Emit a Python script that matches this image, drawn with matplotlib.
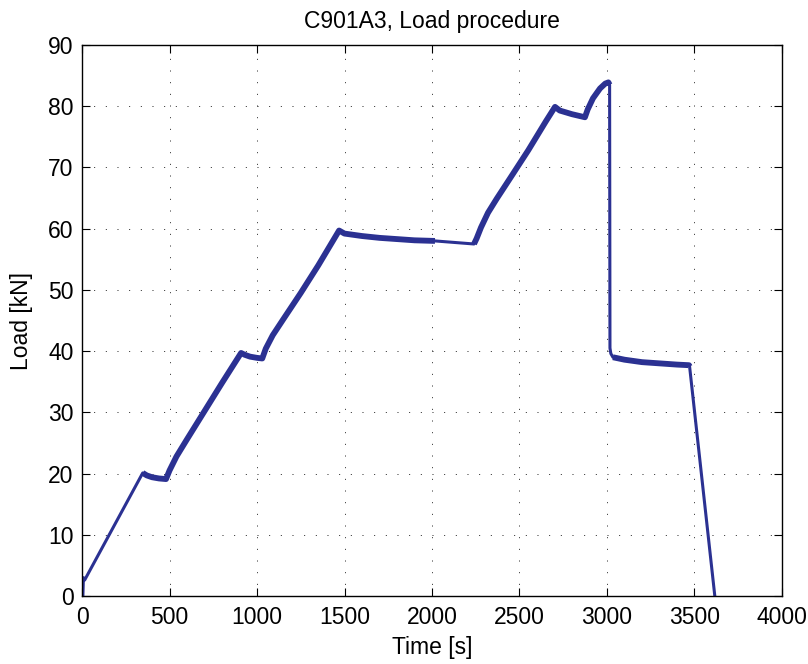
import numpy as np
import matplotlib.pyplot as plt

plt.rcParams['font.family'] = ['Liberation Sans', 'DejaVu Sans']

# load record, read at the corners and along the curved parts
time = [0, 5, 8, 15, 347,
        370, 400, 440, 480,
        500, 540, 600, 700, 800, 909,
        930, 960, 1000, 1030,
        1050, 1090, 1150, 1250, 1350, 1469,
        1500, 1600, 1700, 1800, 1900, 2017,
        2240,
        2255, 2280, 2320, 2370, 2450, 2550, 2650, 2703,
        2730, 2800, 2874,
        2890, 2920, 2960, 2990, 3008, 3015,
        3017, 3022, 3034, 3100, 3200, 3300, 3400, 3469,
        3472, 3620]
load = [0, 0, 3.0, 2.6, 20.1,
        19.7, 19.4, 19.2, 19.1,
        20.5, 22.8, 25.6, 30.2, 34.8, 39.7,
        39.4, 39.1, 38.9, 38.8,
        40.4, 42.6, 45.2, 49.5, 54.0, 59.7,
        59.2, 58.8, 58.5, 58.3, 58.1, 58.0,
        57.5,
        58.4, 60.2, 62.6, 64.9, 68.4, 72.8, 77.5, 79.9,
        79.3, 78.7, 78.2,
        79.5, 81.3, 82.9, 83.7, 83.9, 83.5,
        40.5, 39.6, 39.0, 38.6, 38.2, 38.0, 37.8, 37.7,
        37.5, -1.0]

# parts of the record with strong oscillation (drawn heavier)
noisy = [(4, 30), (31, 48), (51, 57)]

color = '#2b3192'

fig = plt.figure(figsize=(8.08, 6.64), dpi=100)
ax = fig.add_axes([0.1015, 0.1024, 0.8663, 0.8298])

t = np.array(time)
f = np.array(load)
ax.plot(t, f, color=color, lw=2.2, solid_joinstyle='round')
for a, b in noisy:
    ax.plot(t[a:b + 1], f[a:b + 1], color=color, lw=4.2,
            solid_joinstyle='round', solid_capstyle='butt')

ax.set_xlim(0, 4000)
ax.set_ylim(0, 90)
ax.set_xticks(np.arange(0, 4001, 500))
ax.set_yticks(np.arange(0, 91, 10))
ax.grid(True, color='#222222', linestyle=(0, (1, 11)), lw=0.7)
ax.tick_params(direction='in', length=6, width=0.8, top=True, right=True,
               labelsize=16.5)
ax.tick_params(axis='x', pad=7)
ax.tick_params(axis='y', pad=6)
for s in ax.spines.values():
    s.set_linewidth(1.0)

ax.set_xlabel('Time [s]', fontsize=16.5, labelpad=5)
ax.set_ylabel('Load [kN]', fontsize=16.5, labelpad=11)
ax.set_title('C901A3, Load procedure', fontsize=16.5, pad=12)

fig.savefig('out.png', dpi=100)
